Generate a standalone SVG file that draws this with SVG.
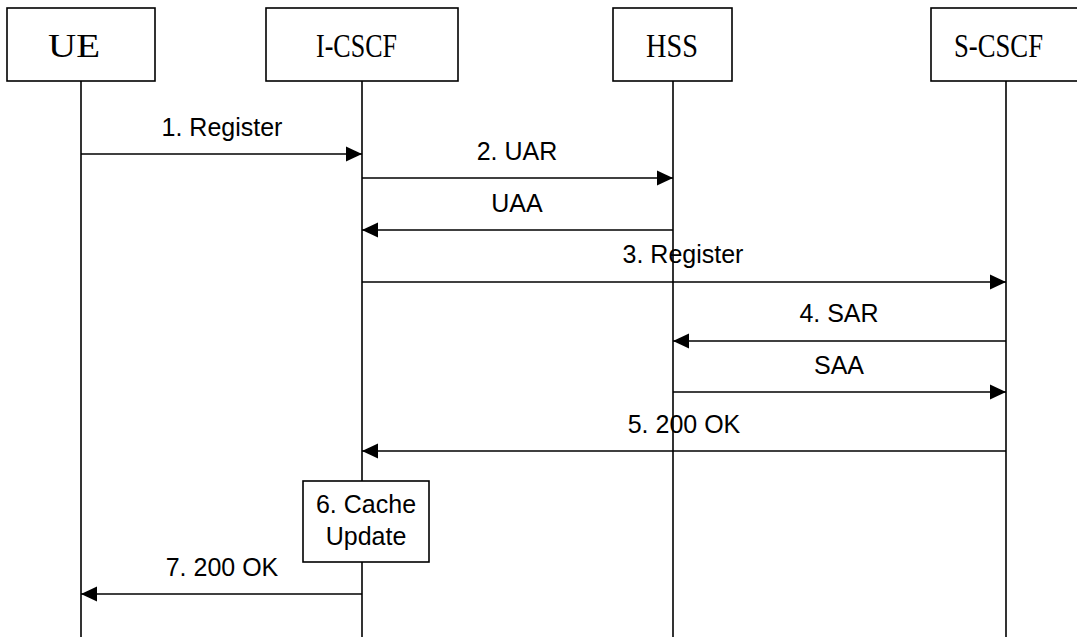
<svg xmlns="http://www.w3.org/2000/svg" width="1077" height="637" viewBox="0 0 1077 637">
  <style>
    .box { fill: #ffffff; stroke: #000000; stroke-width: 1.6; }
    .life { stroke: #000000; stroke-width: 1.6; fill: none; }
    .msg { stroke: #000000; stroke-width: 1.6; fill: none; }
    .node-label { font-family: "Liberation Serif", "Times New Roman", serif; font-size: 33px; fill: #000000; }
    .msg-label { font-family: "Liberation Sans", Arial, sans-serif; font-size: 25px; fill: #000000; text-anchor: middle; }
  </style>
  <defs>
    <marker id="arrow" markerUnits="userSpaceOnUse" markerWidth="17" markerHeight="16" refX="16" refY="8" orient="auto">
      <path d="M0,0.5 L16,8 L0,15.5 Z" fill="#000000"/>
    </marker>
  </defs>
  <rect width="1077" height="637" fill="#ffffff"/>

  <!-- lifelines -->
  <g id="lifelines">
    <line class="life" x1="81" y1="81" x2="81" y2="637"/>
    <line class="life" x1="362" y1="81" x2="362" y2="637"/>
    <line class="life" x1="673" y1="81" x2="673" y2="637"/>
    <line class="life" x1="1006" y1="81" x2="1006" y2="637"/>
  </g>

  <!-- participants -->
  <g id="ue">
    <rect class="box" x="7" y="8" width="148" height="73"/>
    <text class="node-label" x="48" y="57" textLength="52" lengthAdjust="spacingAndGlyphs">UE</text>
  </g>
  <g id="i-cscf">
    <rect class="box" x="266" y="8" width="192" height="73"/>
    <text class="node-label" x="316" y="57" textLength="81" lengthAdjust="spacingAndGlyphs">I-CSCF</text>
  </g>
  <g id="hss">
    <rect class="box" x="613" y="8" width="119" height="73"/>
    <text class="node-label" x="646" y="57" textLength="52" lengthAdjust="spacingAndGlyphs">HSS</text>
  </g>
  <g id="s-cscf">
    <rect class="box" x="931" y="8" width="150" height="73"/>
    <text class="node-label" x="954" y="57" textLength="89" lengthAdjust="spacingAndGlyphs">S-CSCF</text>
  </g>

  <!-- messages -->
  <g id="connectors">
    <line class="msg" x1="81" y1="154" x2="362" y2="154" marker-end="url(#arrow)"/>
    <line class="msg" x1="362" y1="178" x2="673" y2="178" marker-end="url(#arrow)"/>
    <line class="msg" x1="673" y1="230" x2="362" y2="230" marker-end="url(#arrow)"/>
    <line class="msg" x1="362" y1="282" x2="1006" y2="282" marker-end="url(#arrow)"/>
    <line class="msg" x1="1006" y1="341" x2="673" y2="341" marker-end="url(#arrow)"/>
    <line class="msg" x1="673" y1="392" x2="1006" y2="392" marker-end="url(#arrow)"/>
    <line class="msg" x1="1006" y1="451" x2="362" y2="451" marker-end="url(#arrow)"/>
    <line class="msg" x1="362" y1="594" x2="81" y2="594" marker-end="url(#arrow)"/>
  </g>

  <!-- message labels -->
  <g id="labels">
    <text class="msg-label" x="222" y="136">1. Register</text>
    <text class="msg-label" x="517" y="160">2. UAR</text>
    <text class="msg-label" x="517" y="212">UAA</text>
    <text class="msg-label" x="683" y="263">3. Register</text>
    <text class="msg-label" x="839" y="322">4. SAR</text>
    <text class="msg-label" x="839" y="374">SAA</text>
    <text class="msg-label" x="684" y="433">5. 200 OK</text>
    <text class="msg-label" x="222" y="576">7. 200 OK</text>
  </g>

  <!-- local action on I-CSCF -->
  <g id="cache-update">
    <rect class="box" x="303" y="481" width="126" height="81"/>
    <text class="msg-label" x="366" y="513">6. Cache</text>
    <text class="msg-label" x="366" y="545">Update</text>
  </g>
</svg>
